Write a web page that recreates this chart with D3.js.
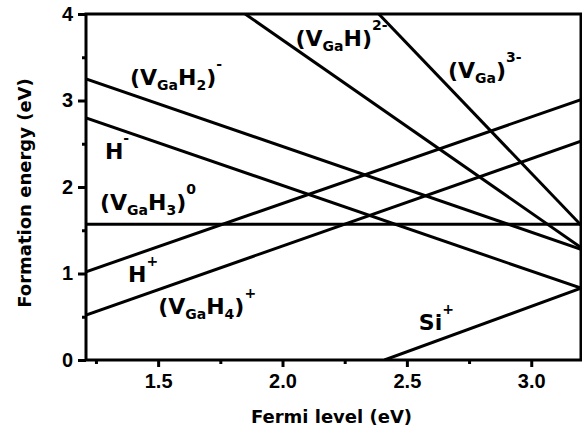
<!DOCTYPE html>
<html><head><meta charset="utf-8">
<script src="https://cdn.jsdelivr.net/npm/d3@7"></script>
<style>body{margin:0;background:#fff}svg{display:block}</style>
</head><body><svg id="c" width="582" height="430"></svg>
<script>
// ---- data ----
const xTickValues = [1.5, 2.0, 2.5, 3.0];
const xTickLabels = ["1.5", "2.0", "2.5", "3.0"];
const xMinorTicks = [1.25, 1.75, 2.25, 2.75];
const yTickValues = [0, 1, 2, 3, 4];
const yTickLabels = ["0", "1", "2", "3", "4"];
const yMinorTicks = [0.5, 1.5, 2.5, 3.5];

const seriesNames = ["VGaH2-", "H-", "VGaH3-0", "H+", "VGaH4+", "VGaH-2-", "VGa-3-", "Si+"];
// Fermi level (eV) of the two ends of each line
const seriesFermi = [
  [1.21, 3.20],
  [1.21, 3.20],
  [1.21, 3.20],
  [1.21, 3.20],
  [1.21, 3.20],
  [1.85, 3.20],
  [2.387, 3.20],
  [2.41, 3.20]
];
// Formation energy (eV) at those ends
const seriesEnergy = [
  [3.25, 1.28],
  [2.80, 0.83],
  [1.57, 1.57],
  [1.02, 3.01],
  [0.52, 2.53],
  [4.00, 1.30],
  [4.00, 1.56],
  [0.00, 0.83]
];
// label text pieces: [text, kind] kind: n normal, b subscript, p superscript
const seriesLabels = [
  [["(V","n"],["Ga","b"],["H","n"],["2","b"],[")","n"],["-","p"]],
  [["H","n"],["-","p"]],
  [["(V","n"],["Ga","b"],["H","n"],["3","b"],[")","n"],["0","p"]],
  [["H","n"],["+","p"]],
  [["(V","n"],["Ga","b"],["H","n"],["4","b"],[")","n"],["+","p"]],
  [["(V","n"],["Ga","b"],["H)","n"],["2-","p"]],
  [["(V","n"],["Ga","b"],[")","n"],["3-","p"]],
  [["Si","n"],["+","p"]]
];

// ---- layout ----
const W = 582, H = 430;
const plot = {left: 86, right: 581, top: 14, bottom: 360};
const labelAnchor = [ // [fermi, energy] of label start/baseline
  [1.387, 3.18], [1.286, 2.32], [1.266, 1.735], [1.379, 0.90],
  [1.500, 0.535], [2.052, 3.634], [2.665, 3.264], [2.548, 0.347]
];

const x = d3.scaleLinear().domain([1.21, 3.2]).range([plot.left, plot.right]);
const y = d3.scaleLinear().domain([0, 4]).range([plot.bottom, plot.top]);

const svg = d3.select("#c");
svg.append("rect").attr("width", W).attr("height", H).attr("fill", "#fff");

svg.append("defs").append("clipPath").attr("id", "clip")
  .append("rect").attr("x", plot.left).attr("y", plot.top)
  .attr("width", plot.right - plot.left).attr("height", plot.bottom - plot.top);

const lineGen = d3.line().x(d => x(d[0])).y(d => y(d[1]));
const g = svg.append("g").attr("clip-path", "url(#clip)");
seriesNames.forEach((n, i) => {
  const pts = seriesFermi[i].map((f, j) => [f, seriesEnergy[i][j]]);
  g.append("path").attr("d", lineGen(pts)).attr("fill", "none")
    .attr("stroke", "#000").attr("stroke-width", 3);
});

// frame
svg.append("rect").attr("x", plot.left).attr("y", plot.top)
  .attr("width", plot.right - plot.left).attr("height", plot.bottom - plot.top)
  .attr("fill", "none").attr("stroke", "#000").attr("stroke-width", 3);

// axes
const xAxis = d3.axisBottom(x).tickValues(xTickValues)
  .tickFormat((d, i) => xTickLabels[i]).tickSize(7).tickPadding(7);
svg.append("g").attr("transform", `translate(0,${plot.bottom})`).call(xAxis);
const xMin = d3.axisBottom(x).tickValues(xMinorTicks).tickFormat("").tickSize(4);
svg.append("g").attr("transform", `translate(0,${plot.bottom})`).call(xMin);

const yAxis = d3.axisLeft(y).tickValues(yTickValues)
  .tickFormat((d, i) => yTickLabels[i]).tickSize(8).tickPadding(5);
svg.append("g").attr("transform", `translate(${plot.left},0)`).call(yAxis);
const yMin = d3.axisLeft(y).tickValues(yMinorTicks).tickFormat("").tickSize(4);
svg.append("g").attr("transform", `translate(${plot.left},0)`).call(yMin);

svg.selectAll(".domain").remove();
svg.selectAll(".tick line").attr("stroke", "#000").attr("stroke-width", 3);
svg.selectAll(".tick text").attr("font-family", "Liberation Sans, Arial, sans-serif")
  .attr("font-weight", "bold").attr("font-size", 20).attr("fill", "#000");

// axis titles
svg.append("text").attr("x", (plot.left + plot.right) / 2 - 2).attr("y", 423)
  .attr("text-anchor", "middle").attr("font-family", "DejaVu Sans, sans-serif")
  .attr("font-weight", "bold").attr("font-size", 18).text("Fermi level (eV)");
svg.append("text").attr("transform", `translate(31,${(plot.top + plot.bottom) / 2 + 6}) rotate(-90)`)
  .attr("text-anchor", "middle").attr("font-family", "DejaVu Sans, sans-serif")
  .attr("font-weight", "bold").attr("font-size", 18).text("Formation energy (eV)");

// labels
seriesLabels.forEach((parts, i) => {
  const t = svg.append("text").attr("x", x(labelAnchor[i][0])).attr("y", y(labelAnchor[i][1]))
    .attr("font-family", "DejaVu Sans, sans-serif").attr("font-weight", "bold")
    .attr("font-size", 22).attr("fill", "#000");
  let prev = 0;
  parts.forEach(([txt, kind]) => {
    const off = kind === "b" ? 5 : kind === "p" ? -16 : 0;
    t.append("tspan").attr("dy", off - prev)
      .attr("font-size", kind === "n" ? 22 : 14).text(txt);
    prev = off;
  });
});
</script>
</body></html>
